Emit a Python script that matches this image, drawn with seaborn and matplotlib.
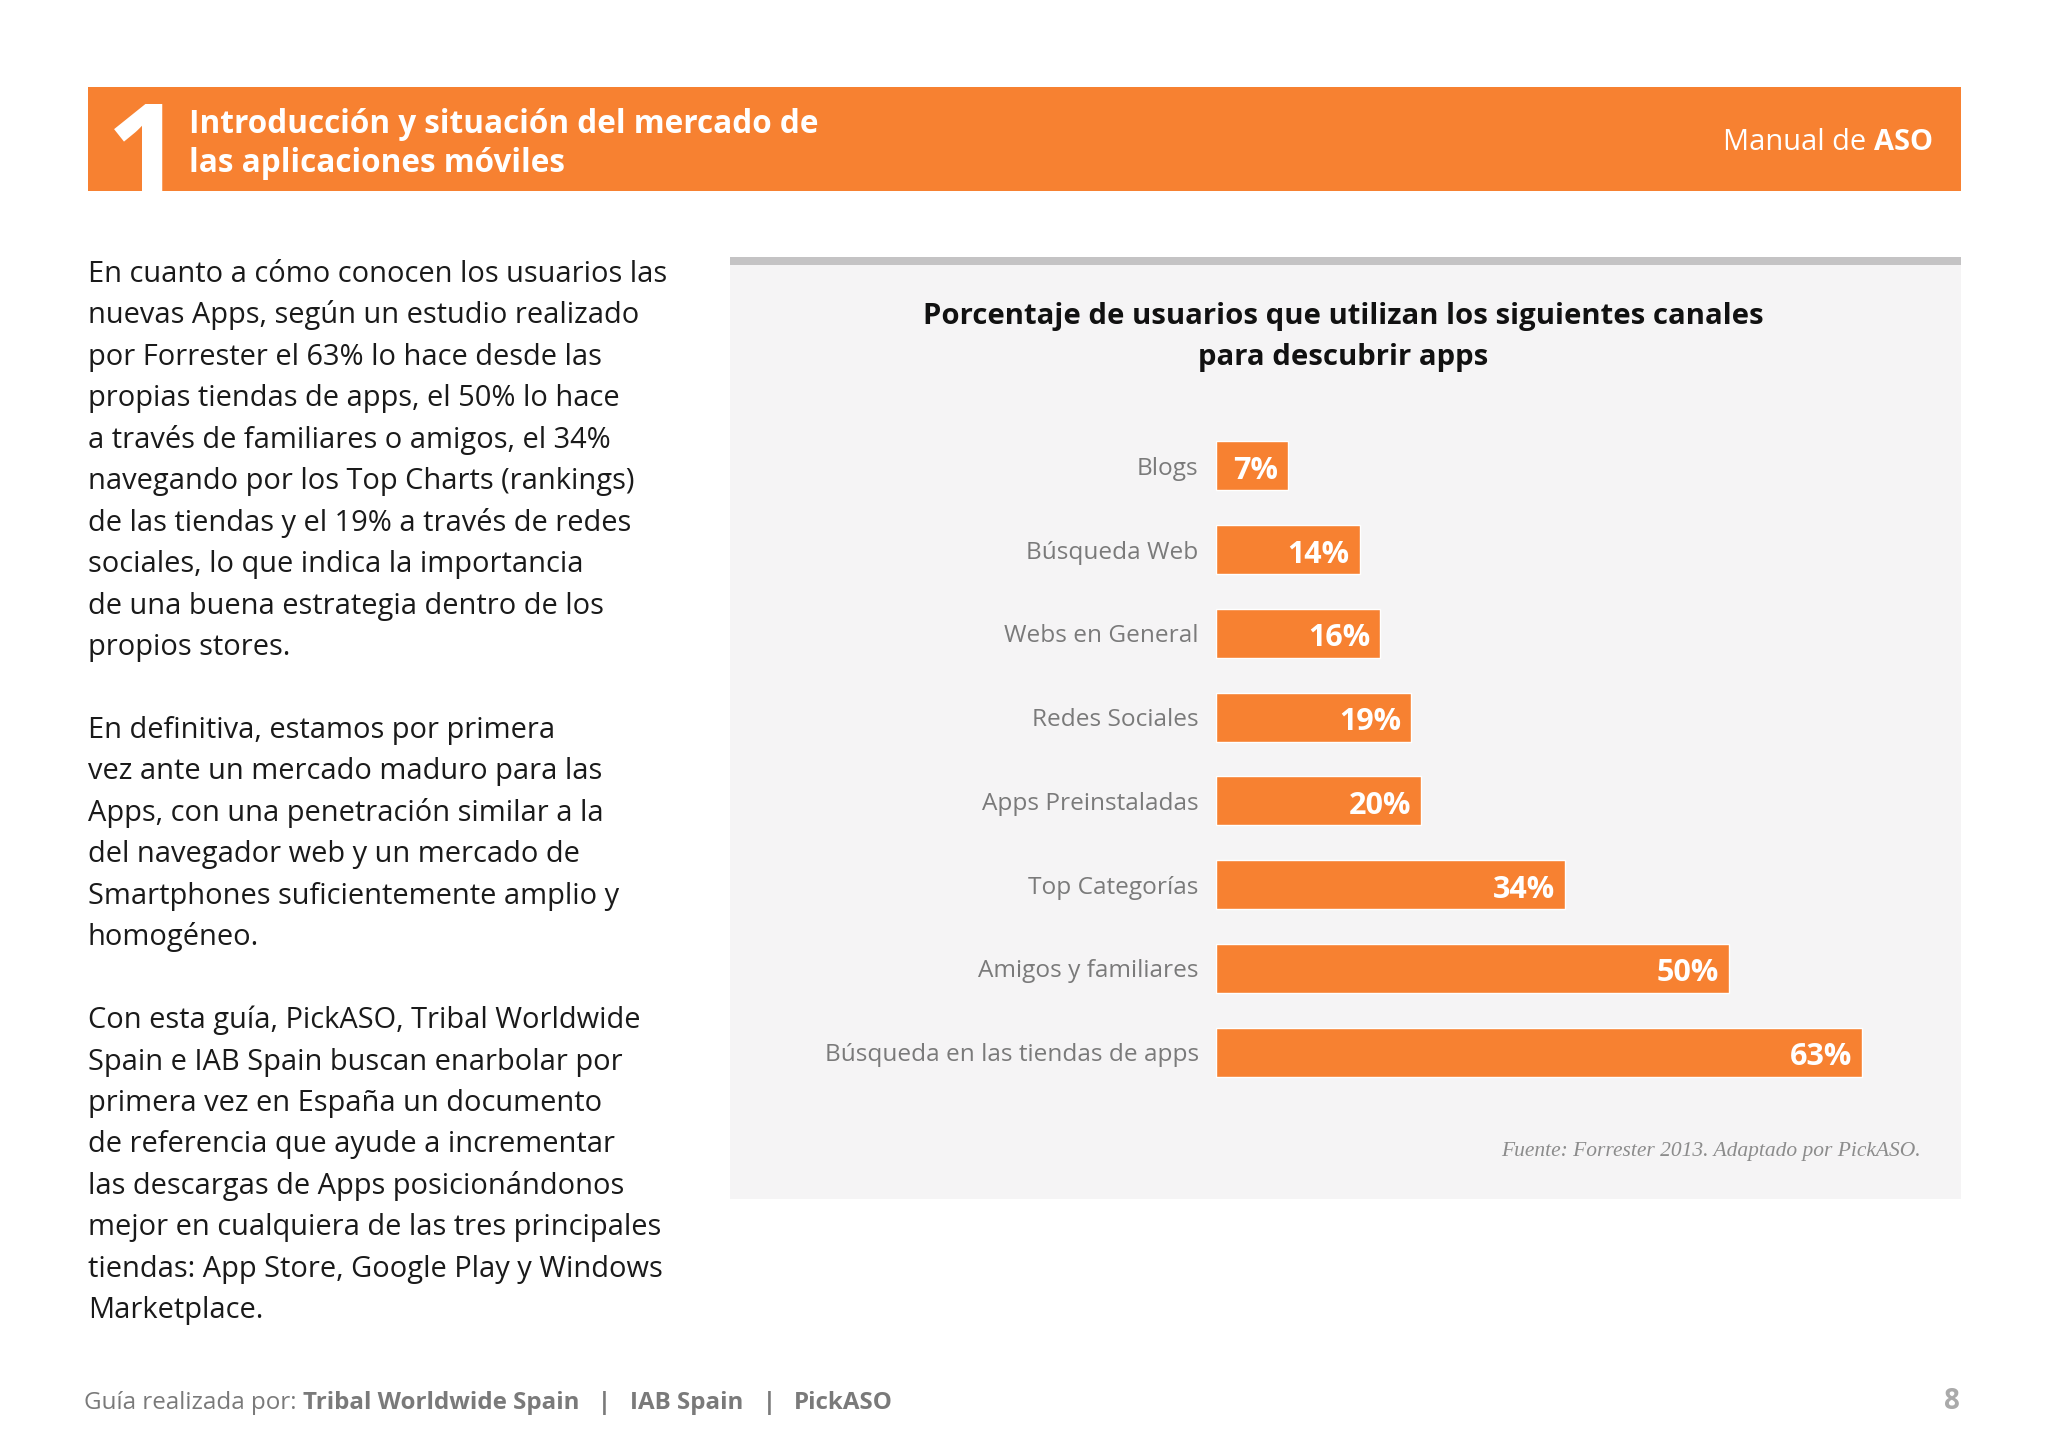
import matplotlib
matplotlib.use("Agg")
import matplotlib.pyplot as plt
from matplotlib.patches import Rectangle
import seaborn as sns
import pandas as pd

# ---------------- data ----------------
categories = ["Blogs", "Búsqueda Web", "Webs en General", "Redes Sociales",
              "Apps Preinstaladas", "Top Categorías", "Amigos y familiares",
              "Búsqueda en las tiendas de apps"]
values = [7, 14, 16, 19, 20, 34, 50, 63]
value_labels = ["7%", "14%", "16%", "19%", "20%", "34%", "50%", "63%"]

chart_title = ["Porcentaje de usuarios que utilizan los siguientes canales",
               "para descubrir apps"]
source_text = "Fuente: Forrester 2013. Adaptado por PickASO."
header_title = ["Introducción y situación del mercado de",
                "las aplicaciones móviles"]
body_lines = [
    "En cuanto a cómo conocen los usuarios las",
    "nuevas Apps, según un estudio realizado",
    "por Forrester el 63% lo hace desde las",
    "propias tiendas de apps, el 50% lo hace",
    "a través de familiares o amigos, el 34%",
    "navegando por los Top Charts (rankings)",
    "de las tiendas y el 19% a través de redes",
    "sociales, lo que indica la importancia",
    "de una buena estrategia dentro de los",
    "propios stores.",
    "",
    "En definitiva, estamos por primera",
    "vez ante un mercado maduro para las",
    "Apps, con una penetración similar a la",
    "del navegador web y un mercado de",
    "Smartphones suficientemente amplio y",
    "homogéneo.",
    "",
    "Con esta guía, PickASO, Tribal Worldwide",
    "Spain e IAB Spain buscan enarbolar por",
    "primera vez en España un documento",
    "de referencia que ayude a incrementar",
    "las descargas de Apps posicionándonos",
    "mejor en cualquiera de las tres principales",
    "tiendas: App Store, Google Play y Windows",
    "Marketplace.",
]

ORANGE = "#F78131"
PANEL = "#F5F4F5"
STRIPE = "#C4C3C4"
LABEL_GRAY = "#7A7A7A"

W, H = 2048, 1448
sns.set_theme(style="white")
plt.rcParams["font.family"] = ["Open Sans", "DejaVu Sans"]

fig = plt.figure(figsize=(W / 100, H / 100), dpi=100)
fig.patch.set_facecolor("white")

# background axes in pixel coordinates for decorations
bg = fig.add_axes([0, 0, 1, 1])
bg.set_xlim(0, W)
bg.set_ylim(H, 0)
bg.axis("off")
bg.add_patch(Rectangle((88, 87), 1873, 104, color=ORANGE, lw=0))
bg.add_patch(Rectangle((730, 257), 1231, 942, color=PANEL, lw=0))
bg.add_patch(Rectangle((730, 257), 1231, 8, color=STRIPE, lw=0))

# big "1" clipped by the header band
hdr = fig.add_axes([88 / W, 1 - 191 / H, 1873 / W, 104 / H])
hdr.set_xlim(0, 1873)
hdr.set_ylim(104, 0)
hdr.axis("off")
hdr.patch.set_alpha(0)
hdr.text(145 - 88, 202 - 87, "1", fontsize=98, fontweight="bold", color="white",
         ha="center", va="baseline", clip_on=True)

def fy(py):
    return 1 - py / H

def fx(px):
    return px / W

# header title
for i, line in enumerate(header_title):
    fig.text(fx(189), fy(133 + 38.5 * i), line, fontsize=22.7, fontweight="bold",
             color="white", ha="left", va="baseline")

fig.canvas.draw()
renderer = fig.canvas.get_renderer()

def seq_right(segments, right_px, base_px):
    x = right_px
    for txt, kw in reversed(segments):
        t = fig.text(fx(x), fy(base_px), txt, ha="right", va="baseline", **kw)
        bb = t.get_window_extent(renderer)
        x -= bb.width

def seq_left(segments, left_px, base_px):
    x = left_px
    for txt, kw in segments:
        t = fig.text(fx(x), fy(base_px), txt, ha="left", va="baseline", **kw)
        bb = t.get_window_extent(renderer)
        x += bb.width

seq_right([("Manual de ", dict(fontsize=20.9, color="white")),
           ("ASO", dict(fontsize=20.9, color="white", fontweight="bold"))], 1933, 150)

# body text
for i, line in enumerate(body_lines):
    if line:
        fig.text(fx(88), fy(282 + 41.45 * i), line, fontsize=20.9, color="#1A1A1A",
                 ha="left", va="baseline")

# chart title
for i, line in enumerate(chart_title):
    fig.text(fx(1343), fy(324 + 41.5 * i), line, fontsize=21.1, fontweight="bold",
             color="#111111", ha="center", va="baseline")

# source
fig.text(fx(1921), fy(1156), source_text, fontsize=15.5, style="italic",
         family=["Liberation Serif", "DejaVu Serif"], color="#8C8C8C",
         ha="right", va="baseline")

# footer
fkw = dict(fontsize=17.4, color="#7A7A7A")
fbk = dict(fontsize=17.4, color="#7A7A7A", fontweight="bold")
seq_left([("Guía realizada por: ", fkw),
          ("Tribal Worldwide Spain", fbk),
          ("   |   ", fbk),
          ("IAB Spain", fbk),
          ("   |   ", fbk),
          ("PickASO", fbk)], 84, 1409)
fig.text(fx(1960), fy(1409), "8", fontsize=20, fontweight="bold", color="#AAAAAA",
         ha="right", va="baseline")

# bar chart
df = pd.DataFrame({"canal": categories, "pct": values})
ax = fig.add_axes([1216 / W, fy(1094), 717.5 / W, (1094 - 424) / H])
ax.patch.set_alpha(0)
sns.barplot(data=df, x="pct", y="canal", order=categories, orient="h",
            color=ORANGE, saturation=1, width=0.585, ax=ax)
ax.set_xlim(0, 70)
ax.set_ylim(len(categories) - 0.5, -0.5)
ax.set_xlabel("")
ax.set_ylabel("")
ax.set_xticks([])
for s in ax.spines.values():
    s.set_visible(False)
ax.tick_params(axis="y", length=0, pad=12.5, labelsize=17.6, labelcolor=LABEL_GRAY)
for i, (v, lab) in enumerate(zip(values, value_labels)):
    ax.annotate(lab, xy=(v, i), xytext=(-7, -1), textcoords="offset points",
                ha="right", va="center_baseline", fontsize=22, fontweight="bold",
                color="white")

fig.savefig("out.png", dpi=100, facecolor="white")
